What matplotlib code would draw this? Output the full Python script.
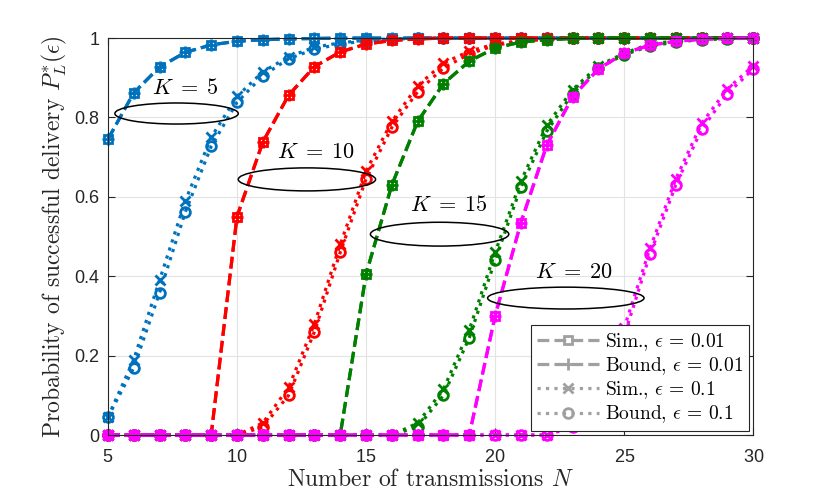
import numpy as np
import matplotlib
matplotlib.use('Agg')
import matplotlib.pyplot as plt
from matplotlib.patches import Ellipse
from matplotlib.lines import Line2D

plt.rcParams['font.family'] = 'serif'
plt.rcParams['font.serif'] = ['cmr10', 'DejaVu Serif']
plt.rcParams['mathtext.fontset'] = 'cm'
plt.rcParams['axes.formatter.use_mathtext'] = True

# number of transmissions
N = list(range(5, 31))

# K = 5
k5_sim_01 = [0.745, 0.862, 0.927, 0.964, 0.983, 0.992, 0.996, 0.998, 0.999] + [1.0] * 17
k5_bnd_01 = [0.745, 0.862, 0.927, 0.964, 0.983, 0.992, 0.996, 0.998, 0.999] + [1.0] * 17
k5_sim_1 = [0.045, 0.19, 0.39, 0.59, 0.75, 0.853, 0.915, 0.953, 0.977, 0.988, 0.995, 0.998] + [1.0] * 14
k5_bnd_1 = [0.045, 0.169, 0.358, 0.562, 0.727, 0.838, 0.905, 0.948, 0.972, 0.985, 0.993, 0.997] + [1.0] * 14

# K = 10
k10_sim_01 = [0, 0, 0, 0, 0, 0.55, 0.738, 0.856, 0.928, 0.965, 0.985, 0.994, 0.998] + [1.0] * 13
k10_bnd_01 = [0, 0, 0, 0, 0, 0.55, 0.738, 0.856, 0.928, 0.965, 0.985, 0.994, 0.998] + [1.0] * 13
k10_sim_1 = [0, 0, 0, 0, 0, 0, 0.03, 0.12, 0.28, 0.48, 0.665, 0.79, 0.88, 0.937, 0.967,
             0.985, 0.994, 0.998] + [1.0] * 8
k10_bnd_1 = [0, 0, 0, 0, 0, 0, 0.02, 0.10, 0.26, 0.46, 0.645, 0.775, 0.865, 0.925, 0.96,
             0.982, 0.992, 0.997] + [1.0] * 8

# K = 15
k15_sim_01 = [0] * 10 + [0.405, 0.63, 0.79, 0.885, 0.942, 0.975, 0.99, 0.996, 0.999] + [1.0] * 7
k15_bnd_01 = [0] * 10 + [0.405, 0.63, 0.79, 0.885, 0.942, 0.975, 0.99, 0.996, 0.999] + [1.0] * 7
k15_sim_1 = [0] * 12 + [0.03, 0.115, 0.265, 0.46, 0.64, 0.78, 0.87, 0.93, 0.962, 0.985,
                        0.993, 0.997, 1.0, 1.0]
k15_bnd_1 = [0] * 12 + [0.02, 0.10, 0.245, 0.44, 0.625, 0.765, 0.86, 0.925, 0.958, 0.98,
                        0.99, 0.996, 0.998, 1.0]

# K = 20
k20_sim_01 = [0] * 15 + [0.30, 0.535, 0.73, 0.852, 0.922, 0.962, 0.982, 0.992, 0.997, 0.999, 1.0]
k20_bnd_01 = [0] * 15 + [0.30, 0.535, 0.73, 0.852, 0.922, 0.962, 0.982, 0.992, 0.997, 0.999, 1.0]
k20_sim_1 = [0] * 18 + [0.03, 0.115, 0.27, 0.47, 0.645, 0.785, 0.872, 0.93]
k20_bnd_1 = [0] * 18 + [0.02, 0.10, 0.25, 0.455, 0.63, 0.77, 0.86, 0.922]

colors = ['#0072BD', '#FF0000', '#008000', '#FF00FF']
groups = [
    (k5_sim_01, k5_bnd_01, k5_sim_1, k5_bnd_1),
    (k10_sim_01, k10_bnd_01, k10_sim_1, k10_bnd_1),
    (k15_sim_01, k15_bnd_01, k15_sim_1, k15_bnd_1),
    (k20_sim_01, k20_bnd_01, k20_sim_1, k20_bnd_1),
]
# ellipse annotations: label, text pos, centre, width, height (data units)
ell_labels = ['$K\\;=\\;5$', '$K\\;=\\;10$', '$K\\;=\\;15$', '$K\\;=\\;20$']
ell_text = [(8.0, 0.875), (13.05, 0.713), (18.2, 0.58), (23.05, 0.41)]
ell_centre = [(7.66, 0.81), (12.71, 0.644), (17.85, 0.506), (22.74, 0.345)]
ell_size = [(4.78, 0.053), (5.32, 0.058), (5.36, 0.06), (6.06, 0.055)]

styles = [('--', 's', 5.5), ('--', '+', 8), (':', 'x', 7), (':', 'o', 7)]

fig = plt.figure(figsize=(8.3, 4.98), dpi=100)
ax = fig.add_axes([0.130, 0.1265, 0.7775, 0.797])

for col, series in zip(colors, groups):
    for (ls, mk, ms), y in zip(styles, series):
        ax.plot(N, y, linestyle=ls, marker=mk, color=col, lw=2.3, clip_on=False,
                markersize=ms, markeredgewidth=2, markerfacecolor='none')

for lab, tp, c, s in zip(ell_labels, ell_text, ell_centre, ell_size):
    ax.add_patch(Ellipse(c, s[0], s[1], fill=False, edgecolor='black', lw=1.1, zorder=5))
    ax.text(tp[0], tp[1], lab, fontsize=16, ha='center', va='center', zorder=5)

ax.set_xlim(5, 30)
ax.set_ylim(0, 1)
ax.set_xticks([5, 10, 15, 20, 25, 30])
ax.set_yticks([0, 0.2, 0.4, 0.6, 0.8, 1])
ax.set_yticklabels(['0', '0.2', '0.4', '0.6', '0.8', '1'])
ax.grid(True, color='#e3e3e3', lw=0.8)
ax.set_axisbelow(True)
ax.tick_params(direction='in', top=True, right=True, length=5, width=0.8,
               colors='#262626', labelsize=13)
ax.tick_params(axis='x', pad=10)
ax.tick_params(axis='y', pad=6)
for t in ax.get_xticklabels() + ax.get_yticklabels():
    t.set_fontfamily('Liberation Sans')
for sp in ax.spines.values():
    sp.set_color('#262626')
    sp.set_linewidth(0.8)

ax.set_xlabel('Number of transmissions $N$', fontsize=17, color='#262626', labelpad=2)
ax.set_ylabel('Probability of successful delivery $P_L^{*}(\\epsilon)$', fontsize=17,
              color='#262626', labelpad=4)

gray = '#a0a0a0'
handles = [Line2D([], [], color=gray, ls=ls, marker=mk, lw=2.3, markersize=ms,
                  markeredgewidth=2, markerfacecolor='none') for ls, mk, ms in styles]
leg_labels = ['Sim., $\\epsilon\\,=\\,0.01$', 'Bound, $\\epsilon\\,=\\,0.01$',
              'Sim., $\\epsilon\\,=\\,0.1$', 'Bound, $\\epsilon\\,=\\,0.1$']
leg = ax.legend(handles, leg_labels, loc='lower right', fontsize=14, fancybox=False,
                framealpha=1, edgecolor='#262626', handlelength=3.2, borderaxespad=0.2,
                labelspacing=0.12, handletextpad=0.3, borderpad=0.3)
leg.get_frame().set_linewidth(0.8)
leg.set_zorder(10)

fig.savefig('out.png', dpi=100)
